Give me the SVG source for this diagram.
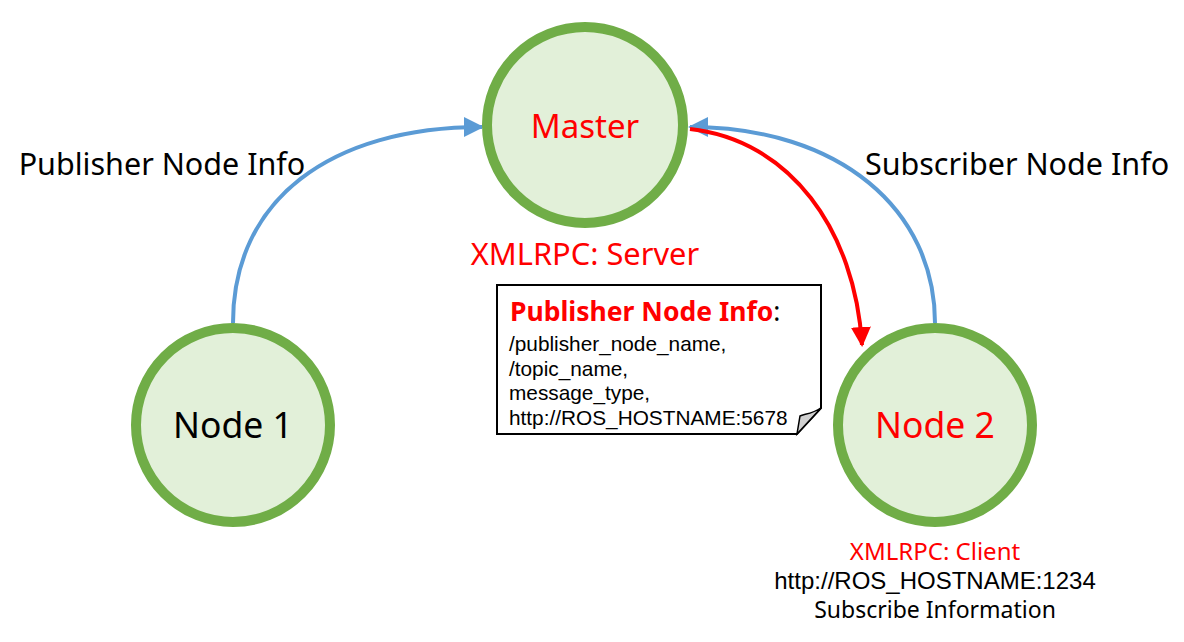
<svg xmlns="http://www.w3.org/2000/svg" width="1184" height="642" viewBox="0 0 1184 642">
<defs>
<marker id="ab" viewBox="0 0 10 10" refX="9" refY="5" markerWidth="5" markerHeight="5" orient="auto" markerUnits="strokeWidth"><path d="M0,0 L10,5 L0,10 Z" fill="#5B9BD5"/></marker>
<marker id="ar" viewBox="0 0 10 10" refX="9" refY="5" markerWidth="5" markerHeight="5" orient="auto" markerUnits="strokeWidth"><path d="M0,0 L10,5 L0,10 Z" fill="#FF0000"/></marker>
</defs>
<style>
.node{fill:#E2F0D9;stroke:#70AD47;stroke-width:10}
.lbl{font-family:"Noto Sans","Open Sans",sans-serif;text-anchor:middle}
.ar{font-family:"Liberation Sans",Arial,sans-serif}
.blue{fill:none;stroke:#5B9BD5;stroke-width:4}
.red{fill:none;stroke:#FF0000;stroke-width:4}
</style>
<rect width="1184" height="642" fill="#fff"/>
<g id="connectors">
<path class="blue" d="M233,323 C233,200 330,127 482,127" marker-end="url(#ab)"/>
<path class="blue" d="M935,323 C935,210 840,127 690,127" marker-end="url(#ab)"/>
<path class="red" d="M690,129 C790,140 855,230 862,345" marker-end="url(#ar)"/>
</g>
<g id="master">
<circle class="node" cx="585" cy="125" r="98"/>
<text class="lbl" x="585" y="138" font-size="33" fill="#FF0000">Master</text>
<text class="lbl" x="585" y="265" font-size="30.8" fill="#FF0000">XMLRPC: Server</text>
</g>
<g id="node1">
<circle class="node" cx="233" cy="425" r="97"/>
<text class="lbl" x="233" y="438" font-size="35.5" fill="#000">Node 1</text>
</g>
<g id="node2">
<circle class="node" cx="935" cy="425" r="97"/>
<text class="lbl" x="935" y="438" font-size="35.5" fill="#FF0000">Node 2</text>
<text class="lbl" x="935" y="560" font-size="24" fill="#FF0000">XMLRPC: Client</text>
<text class="ar" x="935" y="589" font-size="24" text-anchor="middle" fill="#000">http://ROS_HOSTNAME:1234</text>
<text class="lbl" x="935" y="618" font-size="23" fill="#000">Subscribe Information</text>
</g>
<g id="labels">
<text class="lbl" x="162" y="175" font-size="30.5" fill="#000">Publisher Node Info</text>
<text class="lbl" x="1017" y="175" font-size="30.5" fill="#000">Subscriber Node Info</text>
</g>
<g id="note">
<path d="M497,285 H821 V408 L797,434 H497 Z" fill="#fff" stroke="#000" stroke-width="2"/>
<path d="M821,408 C812,414 804,414 800,416 L797,434 Z" fill="#D0D0D0" stroke="#000" stroke-width="1.5"/>
<text x="510" y="321" font-family="Noto Sans,Open Sans,sans-serif" font-size="26.5" font-weight="bold" fill="#FF0000">Publisher Node Info<tspan fill="#000" font-weight="normal">:</tspan></text>
<text class="ar" x="509" y="351" font-size="20.8" fill="#000">/publisher_node_name,</text>
<text class="ar" x="509" y="376" font-size="20.8" fill="#000">/topic_name,</text>
<text class="ar" x="509" y="400" font-size="20.8" fill="#000">message_type,</text>
<text class="ar" x="509" y="425" font-size="20.8" fill="#000">http://ROS_HOSTNAME:5678</text>
</g>
</svg>
